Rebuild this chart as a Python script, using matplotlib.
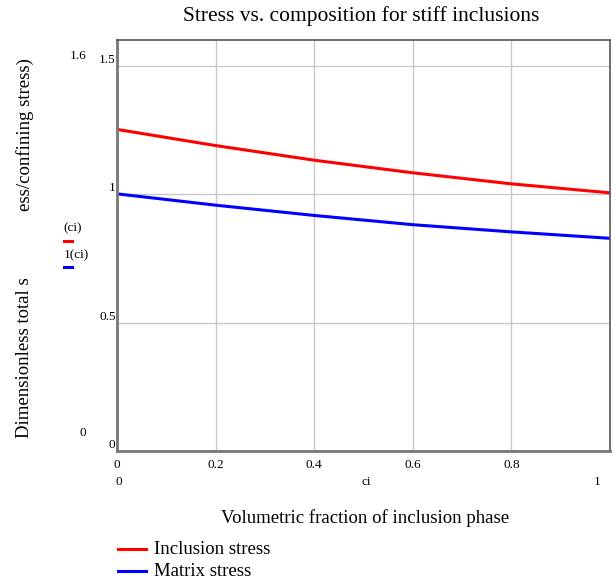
import numpy as np
import matplotlib.pyplot as plt

plt.rcParams['font.family'] = ['Liberation Serif', 'DejaVu Serif']

# values
ci = [0.0, 0.2, 0.4, 0.6, 0.8, 1.0]
inclusion_stress = [1.252, 1.189, 1.132, 1.083, 1.040, 1.005]
matrix_stress = [1.001, 0.957, 0.917, 0.881, 0.853, 0.828]

x_ticks = [0, 0.2, 0.4, 0.6, 0.8]
x_tick_labels = ['0', '0.2', '0.4', '0.6', '0.8']
y_ticks = [0, 0.5, 1, 1.5]
y_tick_labels = ['0', '0.5', '1', '1.5']

fig = plt.figure(figsize=(6.15, 5.83), dpi=100)
ax = fig.add_axes([117 / 615, 1 - 451 / 583, 493 / 615, 411 / 583])

ax.plot(ci, inclusion_stress, color='#ff0000', lw=2.2)
ax.plot(ci, matrix_stress, color='#0000ff', lw=2.2)

ax.set_xlim(0, 1.0)
ax.set_ylim(0, 1.6)
ax.set_xticks(x_ticks)
ax.set_xticklabels(x_tick_labels)
ax.set_yticks(y_ticks)
ax.set_yticklabels(y_tick_labels)
ax.grid(True, color='#c8c8c8', lw=1)
ax.tick_params(axis='both', length=0, labelsize=9.5, colors='black')
ax.tick_params(axis='x', pad=6)
ax.tick_params(axis='y', pad=1)
for lab in ax.get_yticklabels():
    lab.set_verticalalignment('bottom')

for side in ['top', 'right']:
    ax.spines[side].set_color('#555555')
    ax.spines[side].set_linewidth(1.2)
for side in ['left', 'bottom']:
    ax.spines[side].set_color('#777777')
    ax.spines[side].set_linewidth(2.0)

# Mathcad style limit labels and trace names
fs = 9.5
big = 13.5
fig.text(361 / 615, 1 - 16 / 583, 'Stress vs. composition for stiff inclusions',
         ha='center', va='center', fontsize=15.5)
fig.text(119 / 615, 1 - 482 / 583, '0', ha='center', va='center', fontsize=fs)
fig.text(366 / 615, 1 - 482 / 583, 'ci', ha='center', va='center', fontsize=fs)
fig.text(597 / 615, 1 - 482 / 583, '1', ha='center', va='center', fontsize=fs)
fig.text(78 / 615, 1 - 56 / 583, '1.6', ha='center', va='center', fontsize=fs)
fig.text(83 / 615, 1 - 433 / 583, '0', ha='center', va='center', fontsize=fs)
fig.text(73 / 615, 1 - 228 / 583, '(ci)', ha='center', va='center', fontsize=fs)
fig.text(76 / 615, 1 - 255 / 583, '1(ci)', ha='center', va='center', fontsize=fs)
fig.add_artist(plt.Line2D([64 / 615, 72 / 615], [1 - 241 / 583] * 2,
                          color='#ff0000', lw=2.2))
fig.add_artist(plt.Line2D([64 / 615, 72 / 615], [1 - 267 / 583] * 2,
                          color='#0000ff', lw=2.2))

# y label, middle part hidden like in the original
fig.text(25 / 615, 1 - 438 / 583, 'Dimensionless total s', rotation=90,
         ha='center', va='bottom', fontsize=big)
fig.text(25 / 615, 1 - 58 / 583, 'ess/confining stress)', rotation=90,
         ha='center', va='top', fontsize=big)

fig.text(365 / 615, 1 - 518 / 583, 'Volumetric fraction of inclusion phase',
         ha='center', va='center', fontsize=big)

# legend
fig.add_artist(plt.Line2D([118 / 615, 146 / 615], [1 - 549 / 583] * 2,
                          color='#ff0000', lw=2.2))
fig.add_artist(plt.Line2D([118 / 615, 146 / 615], [1 - 571 / 583] * 2,
                          color='#0000ff', lw=2.2))
fig.text(154 / 615, 1 - 549 / 583, 'Inclusion stress', ha='left', va='center', fontsize=big)
fig.text(154 / 615, 1 - 571 / 583, 'Matrix stress', ha='left', va='center', fontsize=big)

fig.savefig('out.png', dpi=100)
